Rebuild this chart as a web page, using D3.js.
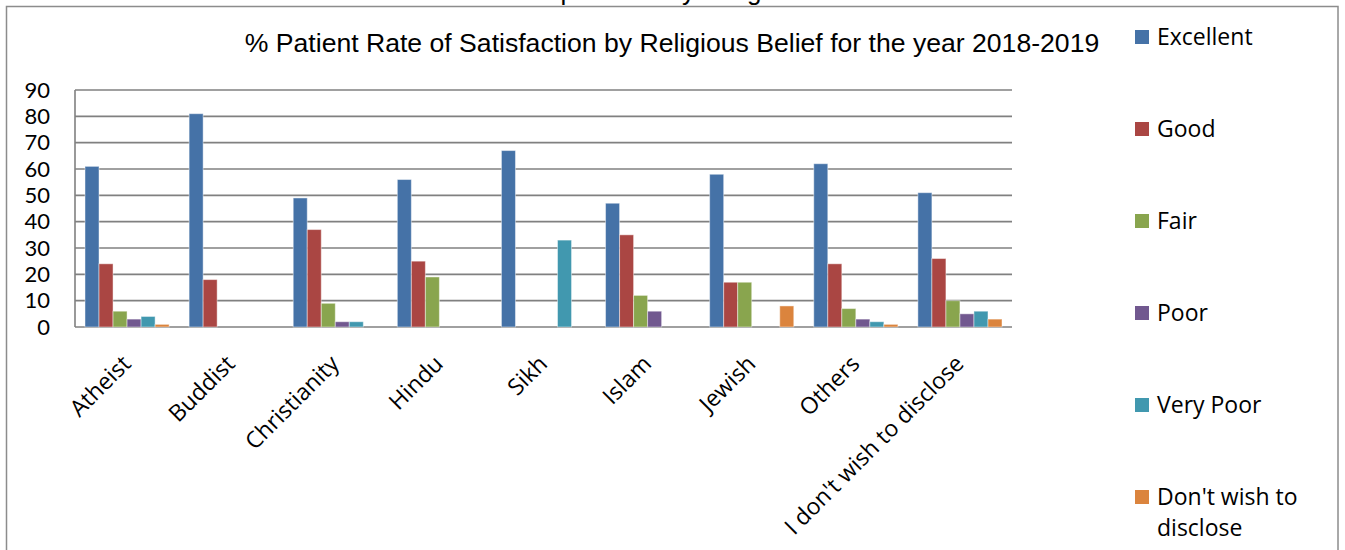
<!DOCTYPE html>
<html>
<head>
<meta charset="utf-8">
<script src="https://cdn.jsdelivr.net/npm/d3@7"></script>
<style>
  body { margin: 0; background: #ffffff; }
  svg { display: block; }
</style>
</head>
<body>
<svg id="chart" width="1345" height="550"></svg>
<script>
// Religious belief groups along the x axis
const categories = ["Atheist", "Buddist", "Christianity", "Hindu", "Sikh", "Islam", "Jewish", "Others", "I don't wish to disclose"];

// Rating series (percent of patients)
const seriesNames = ["Excellent", "Good", "Fair", "Poor", "Very Poor", "Don't wish to disclose"];
const excellent = [61, 81, 49, 56, 67, 47, 58, 62, 51];
const good      = [24, 18, 37, 25, 0, 35, 17, 24, 26];
const fair      = [6, 0, 9, 19, 0, 12, 17, 7, 10];
const poor      = [3, 0, 2, 0, 0, 6, 0, 3, 5];
const veryPoor  = [4, 0, 2, 0, 33, 0, 0, 2, 6];
const dontWish  = [1, 0, 0, 0, 0, 0, 8, 1, 3];

// Value axis ticks
const yTicks = [0, 10, 20, 30, 40, 50, 60, 70, 80, 90];

const seriesValues = [excellent, good, fair, poor, veryPoor, dontWish];
const colors = ["#4572A7", "#AA4643", "#89A54E", "#71588F", "#4198AF", "#DB843D"];

const svg = d3.select("#chart");

// Outer chart frame
svg.append("rect")
  .attr("x", 6.5).attr("y", 6.5)
  .attr("width", 1331.5).attr("height", 560)
  .attr("fill", "none")
  .attr("stroke", "#8c8c8c")
  .attr("stroke-width", 1.5);

// Heading of the preceding chart, clipped by the page top
svg.append("text")
  .attr("x", 442).attr("y", 0)
  .attr("font-family", "'Liberation Sans', Arial, sans-serif")
  .attr("font-size", 26)
  .attr("fill", "#000")
  .text("Patient Experience by Religious Belief");

// Chart title
svg.append("text")
  .attr("x", 672).attr("y", 52)
  .attr("text-anchor", "middle")
  .attr("font-family", "'Liberation Sans', Arial, sans-serif")
  .attr("font-size", 26.6)
  .attr("fill", "#000")
  .text("% Patient Rate of Satisfaction by Religious Belief for the year 2018-2019");

// Plot area
const plot = { left: 75, right: 1012, top: 90, bottom: 327 };

const x0 = d3.scaleBand()
  .domain(categories)
  .range([plot.left, plot.right])
  .paddingInner(0.192)
  .paddingOuter(0.096);

const x1 = d3.scaleBand()
  .domain(seriesNames)
  .range([0, x0.bandwidth()]);

const y = d3.scaleLinear()
  .domain([0, 90])
  .range([plot.bottom, plot.top]);

const color = d3.scaleOrdinal().domain(seriesNames).range(colors);

// Horizontal gridlines
svg.append("g")
  .selectAll("line")
  .data(yTicks)
  .join("line")
  .attr("x1", plot.left).attr("x2", plot.right)
  .attr("y1", d => y(d)).attr("y2", d => y(d))
  .attr("stroke", "#808080")
  .attr("stroke-width", 1.6);

// Vertical axis line
svg.append("line")
  .attr("x1", plot.left).attr("x2", plot.left)
  .attr("y1", y(90)).attr("y2", y(0))
  .attr("stroke", "#808080")
  .attr("stroke-width", 1.6);

// Y axis tick labels
const yAxis = svg.append("g")
  .attr("transform", `translate(${plot.left},0)`)
  .call(d3.axisLeft(y).tickValues(yTicks).tickSize(0).tickPadding(25).tickFormat(d3.format("d")));
yAxis.select(".domain").remove();
yAxis.selectAll("text")
  .attr("font-family", "Lato, 'Open Sans', sans-serif")
  .attr("font-size", 22)
  .attr("fill", "#000");

// Grouped bars
const rows = categories.map((c, i) => ({
  category: c,
  values: seriesNames.map((s, j) => ({ series: s, value: seriesValues[j][i] }))
}));

const groups = svg.append("g")
  .selectAll("g")
  .data(rows)
  .join("g")
  .attr("transform", d => `translate(${x0(d.category)},0)`);

groups.selectAll("rect")
  .data(d => d.values.filter(v => v.value > 0))
  .join("rect")
  .attr("x", d => x1(d.series))
  .attr("y", d => y(d.value))
  .attr("width", x1.bandwidth())
  .attr("height", d => y(0) - y(d.value))
  .attr("fill", d => color(d.series))
  .attr("stroke", "rgba(255,255,255,0.45)")
  .attr("stroke-width", 1);

// Rotated category labels
svg.append("g")
  .selectAll("text")
  .data(categories)
  .join("text")
  .attr("transform", d => `translate(${x0(d) + x0.bandwidth() / 2 - 7},353) rotate(-45)`)
  .attr("text-anchor", "end")
  .attr("dy", "0.75em")
  .attr("font-family", "'Open Sans', sans-serif")
  .attr("font-size", 23)
  .attr("fill", "#000")
  .text(d => d);

// Legend
const legend = svg.append("g")
  .selectAll("g")
  .data(seriesNames)
  .join("g")
  .attr("transform", (d, i) => `translate(1135,${37 + i * 92})`);

legend.append("rect")
  .attr("x", 0).attr("y", -7)
  .attr("width", 14).attr("height", 14)
  .attr("fill", d => color(d));

const legendText = legend.append("text")
  .attr("x", 22)
  .attr("font-family", "'Open Sans', sans-serif")
  .attr("font-size", 23)
  .attr("fill", "#000");

// Wrap long legend entries onto several lines
legendText.each(function (d) {
  const t = d3.select(this);
  const words = d.split(" ");
  const maxWidth = 165;
  let lines = [];
  let line = [];
  const probe = t.append("tspan");
  words.forEach(w => {
    line.push(w);
    probe.text(line.join(" "));
    if (probe.node().getComputedTextLength() > maxWidth && line.length > 1) {
      line.pop();
      lines.push(line.join(" "));
      line = [w];
    }
  });
  lines.push(line.join(" "));
  probe.remove();
  lines.forEach((l, k) => {
    t.append("tspan")
      .attr("x", 22)
      .attr("y", k * 31)
      .attr("dy", "0.35em")
      .text(l);
  });
});
</script>
</body>
</html>
